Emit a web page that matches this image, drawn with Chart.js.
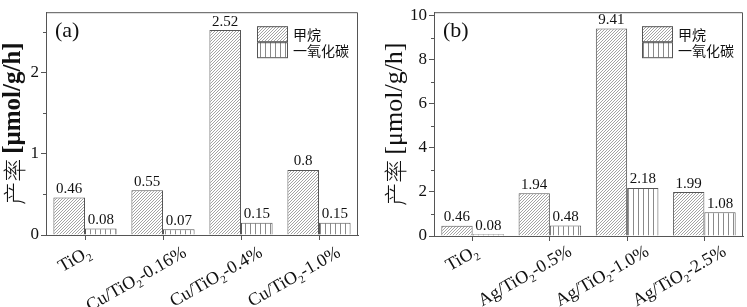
<!DOCTYPE html>
<html lang="zh">
<head>
<meta charset="UTF-8">
<title>产率</title>
<script src="https://cdn.jsdelivr.net/npm/chart.js"></script>
<style>
  html, body { margin: 0; padding: 0; background: #fff; }
  #wrap { position: relative; width: 747px; height: 307px; overflow: hidden; }
  .box { position: absolute; top: 0; height: 307px; }
</style>
</head>
<body>
<div id="wrap">
  <div class="box" style="left:0;width:373px"><canvas id="chart-a" width="373" height="307"></canvas></div>
  <div class="box" style="left:373px;width:374px"><canvas id="chart-b" width="374" height="307"></canvas></div>
</div>

<script>
// data
const seriesNames = ['甲烷', '一氧化碳'];

const catsA = ['TiO₂', 'Cu/TiO₂-0.16%', 'Cu/TiO₂-0.4%', 'Cu/TiO₂-1.0%'];
const ch4A = [0.46, 0.55, 2.52, 0.8];
const coA = [0.08, 0.07, 0.15, 0.15];
const majorA = [0, 1, 2];
const minorA = [0.5, 1.5, 2.5];

const catsB = ['TiO₂', 'Ag/TiO₂-0.5%', 'Ag/TiO₂-1.0%', 'Ag/TiO₂-2.5%'];
const ch4B = [0.46, 1.94, 9.41, 1.99];
const coB = [0.08, 0.48, 2.18, 1.08];
const majorB = [0, 2, 4, 6, 8, 10];
const minorB = [1, 3, 5, 7, 9];

const axisColor = '#555';
const textColor = '#111';
const serif = '"Liberation Serif", "Times New Roman", serif';
const cjk = '"Noto Sans CJK SC", sans-serif';

// hatch patterns
function diagPattern(ctx) {
  const c = document.createElement('canvas');
  c.width = 3; c.height = 3;
  const g = c.getContext('2d');
  g.fillStyle = '#fff';
  g.fillRect(0, 0, 3, 3);
  g.strokeStyle = '#8c8c8c';
  g.lineWidth = 0.8;
  g.beginPath();
  g.moveTo(0, 3); g.lineTo(3, 0);
  g.moveTo(-1, 1); g.lineTo(1, -1);
  g.moveTo(2, 4); g.lineTo(4, 2);
  g.stroke();
  return ctx.createPattern(c, 'repeat');
}

function vertPattern(ctx) {
  const c = document.createElement('canvas');
  c.width = 5; c.height = 1;
  const g = c.getContext('2d');
  g.fillStyle = '#fff';
  g.fillRect(0, 0, 5, 1);
  g.fillStyle = '#8a8a8a';
  g.fillRect(0, 0, 1, 1);
  return ctx.createPattern(c, 'repeat');
}

// text with "₂" drawn as a real subscript, returns width
function subText(ctx, s, x, y, size, draw) {
  const parts = s.split('₂');
  let cx = x;
  parts.forEach((p, i) => {
    ctx.font = size + 'px ' + serif;
    if (draw) ctx.fillText(p, cx, y);
    cx += ctx.measureText(p).width;
    if (i < parts.length - 1) {
      ctx.font = Math.round(size * 0.62) + 'px ' + serif;
      if (draw) ctx.fillText('2', cx, y + size * 0.24);
      cx += ctx.measureText('2').width;
    }
  });
  return cx - x;
}

// box, minor ticks, category labels, value labels, legend, panel tag, y title
const panelPlugin = {
  id: 'panel',
  afterDraw(chart, args, opts) {
    const ctx = chart.ctx;
    const a = chart.chartArea;
    const xs = chart.scales.x;
    const ys = chart.scales.y;
    ctx.save();

    ctx.strokeStyle = axisColor;
    ctx.lineWidth = 1;
    ctx.beginPath();
    ctx.moveTo(a.left, a.top + 0.5);
    ctx.lineTo(a.right - 0.5, a.top + 0.5);
    ctx.lineTo(a.right - 0.5, a.bottom);
    opts.minor.forEach(v => {
      const p = Math.round(ys.getPixelForValue(v)) + 0.5;
      ctx.moveTo(a.left - 3, p);
      ctx.lineTo(a.left, p);
    });
    ctx.stroke();

    // rotated category labels
    const fs = 18;
    ctx.fillStyle = textColor;
    ctx.textAlign = 'left';
    ctx.textBaseline = 'alphabetic';
    chart.data.labels.forEach((lab, i) => {
      const tx = xs.getPixelForValue(i);
      const L = subText(ctx, lab, 0, 0, fs, false);
      ctx.save();
      ctx.translate(tx - 9 + 0.23 * L, a.bottom + opts.labelDy);
      ctx.rotate(-Math.PI / 6);
      subText(ctx, lab, -L, fs * 0.86, fs, true);
      ctx.restore();
    });

    // numbers above bars
    ctx.font = '15px ' + serif;
    ctx.textAlign = 'center';
    ctx.textBaseline = 'bottom';
    chart.data.datasets.forEach((ds, i) => {
      chart.getDatasetMeta(i).data.forEach((bar, j) => {
        ctx.fillText(String(ds.data[j]), bar.x, bar.y - 1);
      });
    });

    // legend
    const lx = a.right - 101;
    let ly = a.top + 14;
    ctx.textAlign = 'left';
    ctx.textBaseline = 'middle';
    ctx.font = '14px ' + cjk;
    chart.data.datasets.forEach(ds => {
      ctx.fillStyle = ds.backgroundColor;
      ctx.fillRect(lx, ly, 31, 15);
      ctx.strokeStyle = axisColor;
      ctx.strokeRect(lx + 0.5, ly + 0.5, 30, 15);
      ctx.fillStyle = textColor;
      ctx.fillText(ds.label, lx + 36, ly + 8);
      ly += 16;
    });

    // panel tag
    ctx.font = '22px ' + serif;
    ctx.textBaseline = 'alphabetic';
    ctx.fillText(opts.tag, a.left + 9, a.top + 25);

    // y title: 产率 [μmol/g/h]
    const p1 = '产率 ';
    const p2 = '[μmol/g/h]';
    const f1 = '300 23px ' + cjk;
    const f2 = (opts.boldUnit ? 'bold 25px ' : '26px ') + serif;
    ctx.font = f1;
    const w1 = ctx.measureText(p1).width;
    ctx.font = f2;
    const w2 = ctx.measureText(p2).width;
    const cy = (a.top + a.bottom) / 2;
    ctx.translate(opts.titleX, cy);
    ctx.rotate(-Math.PI / 2);
    ctx.textBaseline = 'middle';
    const x0 = -(w1 + w2) / 2;
    ctx.font = f1;
    ctx.fillText(p1, x0, 0);
    ctx.font = f2;
    ctx.fillText(p2, x0 + w1, 0);

    ctx.restore();
  }
};

function makeChart(id, cats, ch4, co, major, minor, yMax, cfg) {
  const canvas = document.getElementById(id);
  const ctx = canvas.getContext('2d');
  const ticks = major.concat(minor).sort((p, q) => p - q);

  return new Chart(ctx, {
    type: 'bar',
    data: {
      labels: cats,
      datasets: [
        { label: seriesNames[0], data: ch4, backgroundColor: diagPattern(ctx),
          borderColor: axisColor, borderWidth: 1, barPercentage: 1, categoryPercentage: 0.81 },
        { label: seriesNames[1], data: co, backgroundColor: vertPattern(ctx),
          borderColor: axisColor, borderWidth: 1, barPercentage: 1, categoryPercentage: 0.81 }
      ]
    },
    options: {
      responsive: false,
      animation: false,
      layout: { autoPadding: false, padding: { top: 5, right: cfg.padRight, left: 0, bottom: 0 } },
      plugins: {
        legend: { display: false },
        tooltip: { enabled: false },
        panel: { tag: cfg.tag, boldUnit: cfg.boldUnit, titleX: cfg.titleX, minor: minor, labelDy: cfg.labelDy }
      },
      scales: {
        x: {
          offset: true,
          grid: { offset: false, drawOnChartArea: false, tickLength: 5, color: axisColor },
          border: { color: axisColor },
          ticks: { display: false },
          afterFit: s => { s.height = cfg.xHeight; s.paddingLeft = 0; s.paddingRight = 0; }
        },
        y: {
          min: 0,
          max: yMax,
          afterBuildTicks: s => { s.ticks = ticks.map(v => ({ value: v })); },
          grid: { drawOnChartArea: false, tickLength: 5,
                  tickColor: c => (c.tick && major.includes(c.tick.value)) ? axisColor : 'rgba(0,0,0,0)' },
          border: { color: axisColor },
          ticks: { padding: 2, color: textColor, font: { family: serif, size: 17 },
                   callback: v => major.includes(v) ? String(v) : '' },
          afterFit: s => { s.width = cfg.yWidth; }
        }
      }
    },
    plugins: [panelPlugin]
  });
}

makeChart('chart-a', catsA, ch4A, coA, majorA, minorA, 2.74,
  { tag: '(a)', boldUnit: true, titleX: 14, padRight: 15, yWidth: 46, xHeight: 72, labelDy: 7 });
makeChart('chart-b', catsB, ch4B, coB, majorB, minorB, 10.15,
  { tag: '(b)', boldUnit: false, titleX: 22, padRight: 4, yWidth: 61, xHeight: 71, labelDy: 5 });
</script>
</body>
</html>
